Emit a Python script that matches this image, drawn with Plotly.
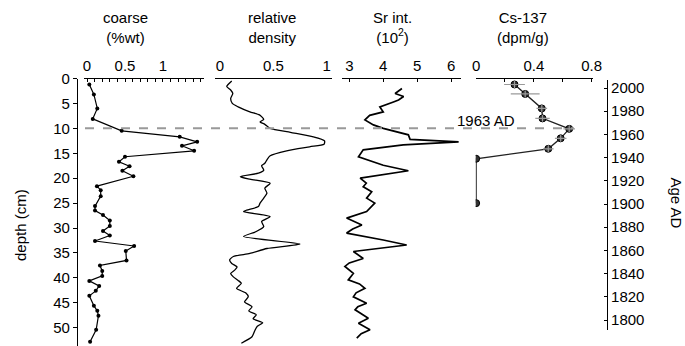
import plotly.graph_objects as go

# ---------------- data ----------------
coarse_depth = [1.2, 3.2, 6.0, 8.1, 10.5, 11.7, 12.7, 13.5, 14.5, 15.7, 16.7, 17.6, 18.5, 19.6,
                21.6, 22.4, 23.6, 25.6, 26.5, 27.4, 28.5, 29.6, 30.6, 31.5, 32.6, 33.6, 34.6,
                36.5, 37.5, 38.6, 39.6, 40.6, 41.6, 42.6, 43.6, 45.6, 46.6, 47.6, 50.4, 52.8]
coarse_wt = [0.03, 0.09, 0.135, 0.075, 0.456, 1.22, 1.45, 1.25, 1.41, 0.5, 0.42, 0.56, 0.465, 0.61,
             0.13, 0.18, 0.18, 0.105, 0.105, 0.21, 0.30, 0.30, 0.21, 0.30, 0.105, 0.62, 0.51,
             0.52, 0.17, 0.20, 0.20, 0.03, 0.16, 0.115, 0.03, 0.09, 0.135, 0.15, 0.12, 0.04]

dens_depth = [0.5, 1.6, 2.3, 3.0, 4.0, 5.0, 5.7, 6.7, 7.3, 8.2, 8.7, 9.2, 10.0, 10.8, 11.7, 12.5,
              13.2, 13.7, 14.5, 15.5, 16.3, 17.0, 17.5, 18.4, 19.0, 19.7, 20.2, 21.0, 22.0, 23.0,
              24.0, 25.0, 25.7, 26.4, 26.7, 27.7, 28.7, 29.7, 30.7, 31.7, 33.2, 34.1, 35.1, 35.7,
              36.4, 37.1, 37.8, 38.4, 39.1, 39.8, 40.5, 41.1, 42.1, 43.0, 43.8, 44.8, 45.8, 46.6,
              47.4, 48.2, 49.0, 49.7, 50.4, 51.8, 53.1]
dens_val = [0.11, 0.063, 0.10, 0.12, 0.10, 0.115, 0.17, 0.28, 0.37, 0.41, 0.375, 0.42, 0.47, 0.66,
            0.875, 0.98, 0.975, 0.84, 0.625, 0.47, 0.44, 0.42, 0.39, 0.41, 0.36, 0.19, 0.28, 0.47,
            0.42, 0.44, 0.41, 0.375, 0.36, 0.25, 0.22, 0.47, 0.39, 0.41, 0.34, 0.22, 0.75, 0.44,
            0.28, 0.125, 0.09, 0.11, 0.16, 0.14, 0.10, 0.125, 0.17, 0.20, 0.155, 0.24, 0.265,
            0.23, 0.30, 0.27, 0.34, 0.31, 0.40, 0.35, 0.33, 0.30, 0.20]

sr_depth = [2.0, 3.0, 3.6, 4.3, 4.7, 5.7, 6.7, 7.4, 8.3, 9.3, 10.0, 10.7, 11.3, 12.2, 12.7, 13.3,
            14.3, 15.7, 16.7, 17.4, 18.5, 19.6, 20.0, 21.0, 21.7, 22.7, 24.0, 25.0, 25.7, 26.7,
            28.0, 29.4, 30.2, 31.0, 32.4, 33.4, 34.7, 36.1, 37.0, 37.7, 39.1, 40.4, 41.2, 42.1,
            43.0, 43.8, 45.1, 45.8, 46.4, 48.1, 49.1, 50.4, 51.2, 52.1]
sr_val = [4.55, 4.35, 4.60, 4.45, 4.30, 3.90, 4.00, 3.60, 3.46, 3.71, 4.00, 4.40, 4.74, 4.79,
          6.22, 4.59, 3.41, 3.27, 3.71, 4.00, 4.74, 3.71, 3.32, 3.50, 3.41, 3.66, 3.51, 3.75,
          3.66, 3.51, 2.92, 3.37, 3.10, 2.92, 4.00, 4.69, 3.12, 3.41, 3.00, 2.87, 3.12, 2.97,
          3.30, 3.46, 3.20, 3.12, 3.51, 3.25, 3.17, 3.56, 3.27, 3.61, 3.35, 3.22]

cs_depth = [1.2, 3.1, 6.0, 8.0, 10.1, 12.0, 14.1, 16.1, 25.0]
cs_val = [0.266, 0.34, 0.455, 0.46, 0.645, 0.586, 0.50, 0.0, 0.0]
cs_err_x = [0.072, 0.10, 0.037, 0.05, 0.04, 0.04, 0.037, 0.0, 0.0]
cs_err_y = [0.7, 0.7, 0.7, 0.7, 0.7, 0.7, 0.7, 0.0, 0.0]

age_ticks = [2000, 1980, 1960, 1940, 1920, 1900, 1880, 1860, 1840, 1820, 1800]
marker_depth = 10.0
marker_label = "1963 AD"

# ---------------- figure ----------------
W, H = 685, 346
FONT = "Liberation Sans, Arial, sans-serif"
FS = 15


def px(x):
    return x / W


def py(y):
    return 1 - y / H


fig = go.Figure()

fig.add_trace(go.Scatter(x=coarse_wt, y=coarse_depth, xaxis="x", yaxis="y", mode="lines+markers",
                         line=dict(color="black", width=1.2), marker=dict(color="black", size=4)))
fig.add_trace(go.Scatter(x=dens_val, y=dens_depth, xaxis="x2", yaxis="y", mode="lines",
                         line=dict(color="black", width=1.3, shape="spline", smoothing=0.6)))
fig.add_trace(go.Scatter(x=sr_val, y=sr_depth, xaxis="x3", yaxis="y", mode="lines",
                         line=dict(color="black", width=1.7)))
fig.add_trace(go.Scatter(x=cs_val, y=cs_depth, xaxis="x4", yaxis="y", mode="lines+markers",
                         line=dict(color="#222", width=1.3),
                         marker=dict(color="#333", size=7, line=dict(color="black", width=1))))
# error crosses drawn on top of the markers
fig.add_trace(go.Scatter(x=cs_val, y=cs_depth, xaxis="x4", yaxis="y", mode="markers",
                         marker=dict(color="rgba(0,0,0,0)", size=1),
                         error_x=dict(type="data", array=cs_err_x, color="#9a9a9a", thickness=1.2, width=0),
                         error_y=dict(type="data", array=cs_err_y, color="#9a9a9a", thickness=1.2, width=0),
                         hoverinfo="skip"))
# invisible trace carrying the age axis
fig.add_trace(go.Scatter(x=[None], y=[None], xaxis="x5", yaxis="y2", mode="markers",
                         showlegend=False, hoverinfo="skip"))

ydom = [0, py(78.5)]
ax_common = dict(side="top", anchor="y", showline=True, linecolor="black", linewidth=1.2,
                 showgrid=False, zeroline=False, automargin=False,
                 tickfont=dict(family=FONT, size=FS, color="black"),
                 ticks="inside", ticklen=3, tickcolor="black", tickwidth=1)

fig.update_layout(
    template="none",
    width=W, height=H, margin=dict(l=0, r=0, t=0, b=0, pad=0, autoexpand=False),
    paper_bgcolor="white", plot_bgcolor="white", showlegend=False,
    font=dict(family=FONT, size=FS, color="black"),
    xaxis=dict(ax_common, domain=[px(84), px(204)], range=[-0.04, 1.54], tickvals=[0, 0.5, 1],
               ticktext=["0", "0.5", "1"],
               minor=dict(dtick=0.1, ticks="inside", ticklen=3, tickcolor="black")),
    xaxis2=dict(ax_common, domain=[px(215), px(331.7)], range=[-0.047, 1.047],
                tickvals=[0, 0.5, 1], ticktext=["0", "0.5", "1"], ticks=""),
    xaxis3=dict(ax_common, domain=[px(341.7), px(461)], range=[2.776, 6.29],
                tickvals=[3, 4, 5, 6]),
    xaxis4=dict(ax_common, domain=[px(475.7), px(593.3)], range=[-0.003, 0.812],
                tickvals=[0, 0.4, 0.8], ticktext=["0", "0.4", "0.8"],
                minor=dict(tickvals=[0.2, 0.6], ticks="inside", ticklen=3, tickcolor="black")),
    xaxis5=dict(domain=[px(600), px(605)], anchor="y2", visible=False, range=[0, 1],
                automargin=False),
    yaxis=dict(domain=ydom, range=[(346 - 78.5) / 4.985, 0], anchor="free", position=px(77),
               showline=True, linecolor="black", linewidth=1.2, showgrid=False, zeroline=False,
               ticks="outside", ticklen=4, tickcolor="black", dtick=5, tick0=0, automargin=False,
               tickfont=dict(family=FONT, size=FS, color="black")),
    yaxis2=dict(domain=[py(330), py(80)], range=[1791.4, 2006.9], anchor="free", position=px(607),
                side="right", showline=True, linecolor="black", linewidth=1.2, showgrid=False,
                zeroline=False, ticks="inside", ticklen=3, tickcolor="black", tickvals=age_ticks,
                automargin=False, tickfont=dict(family=FONT, size=FS, color="black")),
)

fig.add_shape(type="line", xref="paper", yref="y", x0=px(85), x1=px(574),
              y0=marker_depth, y1=marker_depth, line=dict(color="#999", width=2, dash="dash"))

titles = [("coarse<br>(%wt)", 125), ("relative<br>density", 271.5),
          ("Sr int.<br>(10<sup>2</sup>)", 392.5), ("Cs-137<br>(dpm/g)", 522.5)]
for txt, cx in titles:
    fig.add_annotation(text=txt, x=px(cx), y=py(27.5), xref="paper", yref="paper",
                       showarrow=False, xanchor="center", yanchor="middle",
                       font=dict(family=FONT, size=FS, color="black"))

fig.add_annotation(text=marker_label, x=px(485.5), y=py(120), xref="paper", yref="paper",
                   showarrow=False, xanchor="center", yanchor="middle",
                   font=dict(family=FONT, size=FS, color="black"))
fig.add_annotation(text="depth (cm)", x=px(20), y=py(225), xref="paper", yref="paper",
                   showarrow=False, textangle=-90, xanchor="center", yanchor="middle",
                   font=dict(family=FONT, size=FS, color="black"))
fig.add_annotation(text="Age AD", x=px(676), y=py(202.5), xref="paper", yref="paper",
                   showarrow=False, textangle=90, xanchor="center", yanchor="middle",
                   font=dict(family=FONT, size=FS, color="black"))

fig.write_html("out.html", config={"displayModeBar": False},
               post_script="document.body.style.margin='0';document.body.style.padding='0';"
                           "document.documentElement.style.margin='0';")
